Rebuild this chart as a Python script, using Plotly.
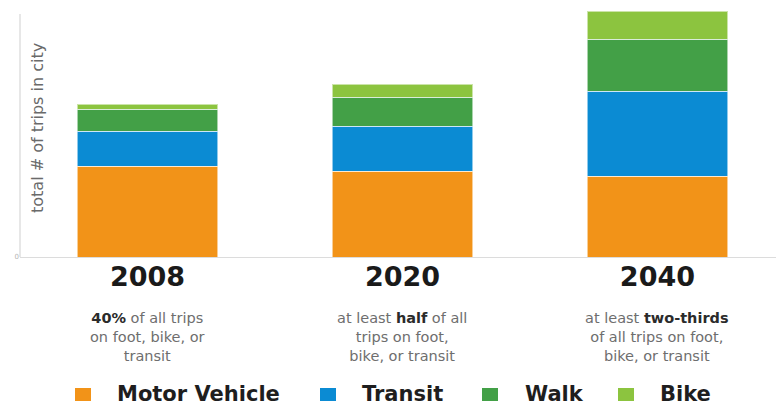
import plotly.graph_objects as go

# ---------------- data ----------------
years = ["2008", "2020", "2040"]
motor_vehicle = [91, 86, 81]
transit = [35, 45, 85]
walk = [22, 29, 52]
bike = [5, 13, 28]

series_names = ["Motor Vehicle", "Transit", "Walk", "Bike"]
series_values = [motor_vehicle, transit, walk, bike]
series_colors = ["#F29318", "#0B8BD3", "#43A047", "#8CC43F"]

subtitle_lines = [
    ["<b><span style='color:#2b2b2b'>40%</span></b> of all trips", "on foot, bike, or", "transit"],
    ["at least <b><span style='color:#2b2b2b'>half</span></b> of all", "trips on foot,", "bike, or transit"],
    ["at least <b><span style='color:#2b2b2b'>two-thirds</span></b>", "of all trips on foot,", "bike, or transit"],
]
y_title = "total # of trips in city"

# ---------------- geometry ----------------
W, H = 776, 406
ML, MR, MT, MB = 20, 0, 10, 149
PW = W - ML - MR
PH = H - MT - MB
X_RANGE = [-0.5, 2.465]


def px_x(p):
    return (p - ML) / PW


def px_y(p):
    return (H - MB - p) / PH


def cat_to_paper(i):
    return (i - X_RANGE[0]) / (X_RANGE[1] - X_RANGE[0])


fig = go.Figure()
for name, vals, col in zip(series_names, series_values, series_colors):
    fig.add_trace(go.Bar(
        x=years, y=vals, name=name,
        marker=dict(color=col, line=dict(color="rgba(255,255,255,0.55)", width=1)),
        showlegend=False,
        hoverinfo="x+y+name",
    ))

annotations = []
# subtitles (one multi-line block per year)
for i, lines in enumerate(subtitle_lines):
    annotations.append(dict(
        x=cat_to_paper(i), xref="paper", y=px_y(337), yref="paper",
        text="<br>".join(lines), showarrow=False, xanchor="center", yanchor="middle",
        align="center",
        font=dict(family="DejaVu Sans", size=14.5, color="#6e6e6e"),
    ))

# y-axis title inside plot area
annotations.append(dict(
    x=px_x(38), xref="paper", y=px_y(128), yref="paper",
    text=y_title, textangle=-90, showarrow=False,
    xanchor="center", yanchor="middle",
    font=dict(family="DejaVu Sans", size=16, color="#6a6a6a"),
))

# manual legend
legend_pos = [(75, 115), (320, 360), (482, 523), (618, 658)]
shapes = []
for (sq_left, tx_left), name, col in zip(legend_pos, series_names, series_colors):
    shapes.append(dict(
        type="rect", xref="paper", yref="paper",
        x0=px_x(sq_left), x1=px_x(sq_left + 16),
        y0=px_y(401), y1=px_y(388),
        fillcolor=col, line=dict(width=0),
    ))
    annotations.append(dict(
        x=px_x(tx_left), xref="paper", y=px_y(393.5), yref="paper",
        text=name, showarrow=False, xanchor="left", yanchor="middle",
        font=dict(family="DejaVu Sans", size=21, color="#1e1e1e", weight="bold"),
    ))

# vertical axis line
shapes.append(dict(
    type="line", xref="paper", yref="y", x0=0, x1=0, y0=0, y1=243,
    line=dict(color="#cfcfcf", width=1),
))

fig.update_layout(
    width=W, height=H,
    margin=dict(l=ML, r=MR, t=MT, b=MB, pad=0),
    barmode="stack", bargap=0.45,
    plot_bgcolor="white", paper_bgcolor="white",
    annotations=annotations, shapes=shapes,
    showlegend=False,
    xaxis=dict(
        type="category", range=X_RANGE,
        showline=True, linecolor="#dcdcdc", linewidth=1,
        ticks="", showgrid=False, zeroline=False,
        tickfont=dict(family="DejaVu Sans", size=27, color="#1a1a1a", weight="bold"),
        ticklabelstandoff=-4,
    ),
    yaxis=dict(
        range=[0, PH], showgrid=False, zeroline=False, showline=False,
        tickvals=[0], ticktext=["0"], ticks="",
        tickfont=dict(family="DejaVu Sans", size=7, color="#b5b5b5"),
    ),
)

fig.write_html("out.html")
